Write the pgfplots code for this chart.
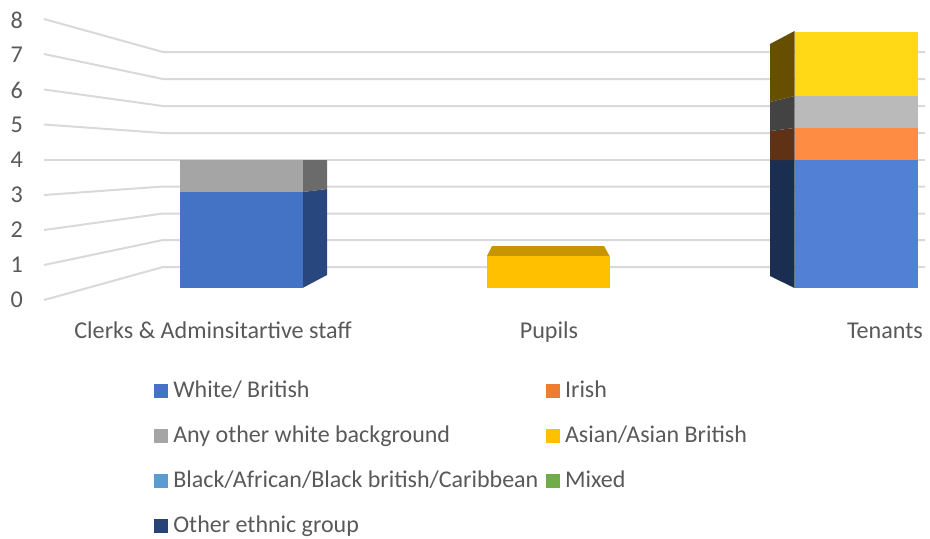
\documentclass[border=0pt]{standalone}
\usepackage{fontspec}
\setmainfont{Carlito}
\usepackage{pgfplots}
\pgfplotsset{compat=1.18}
\definecolor{txt}{HTML}{595959}
\definecolor{gridc}{HTML}{D9D9D9}
\definecolor{cblue}{HTML}{4472C4}
\definecolor{corange}{HTML}{ED7D31}
\definecolor{cgray}{HTML}{A5A5A5}
\definecolor{cyellow}{HTML}{FFC000}
\definecolor{cltblue}{HTML}{5B9BD5}
\definecolor{cgreen}{HTML}{70AD47}
\definecolor{cnavy}{HTML}{264478}
% tenants column, brighter than the rest
\definecolor{brblue}{HTML}{5180D5}
\definecolor{brorange}{HTML}{FF8C42}
\definecolor{brgray}{HTML}{BABABA}
\definecolor{bryellow}{HTML}{FFD916}
% side faces
\definecolor{sblue}{HTML}{28477F}
\definecolor{sgray}{HTML}{6B6B6B}
\definecolor{stop}{HTML}{C69500}
\definecolor{snavy}{HTML}{1A2E52}
\definecolor{sbrown}{HTML}{5F3115}
\definecolor{sdark}{HTML}{434343}
\definecolor{solive}{HTML}{665000}
% 1 px of the reference = 0.75pt
\pgfplotsset{
  frame/.style={
    at={(0pt,0pt)}, anchor=south west,
    scale only axis, width=697.5pt, height=403.5pt,
    axis line style={draw=none}, tick style={draw=none},
    enlargelimits=false, xmin=0, xmax=930,
    xtick=\empty, ytick=\empty,
    /pgf/number format/assume math mode=true,
    tick label style={text=txt, font=\fontsize{18.1}{21}\selectfont},
  },
  % bars: value v sits at pixel row 288-32v
  bars/.style={frame, ybar stacked, bar width=123, ymin=-7.8125, ymax=9},
  wall/.style={no markers, draw=gridc, line width=1.5pt},
  side/.style={fill=#1, draw=none, no markers},
}
\pgfplotstableread{
x   white irish other asian black mixed ethnic
241 3     0     1     0     0     0     0
548 0     0     0     1     0     0     0
}\lowerbars
\pgfplotstableread{
x   white irish other asian
856 4     1     1     2
}\tenantbars
\begin{document}
\begin{tikzpicture}
% back wall, floor lines and the side faces, in pixel rows
\begin{axis}[frame, ymin=0, ymax=538, y dir=reverse]
\addplot[wall] coordinates {(44,19) (163,52) (925,52)};
\addplot[wall] coordinates {(44,54) (163,79) (925,79)};
\addplot[wall] coordinates {(44,89.5) (163,106) (925,106)};
\addplot[wall] coordinates {(44,124.5) (163,133) (925,133)};
\addplot[wall] coordinates {(44,160) (163,160) (925,160)};
\addplot[wall] coordinates {(44,195) (163,186.5) (925,186.5)};
\addplot[wall] coordinates {(44,230) (163,213.5) (925,213.5)};
\addplot[wall] coordinates {(44,265) (163,240) (925,240)};
\addplot[wall] coordinates {(44,300) (163,267) (925,267)};
% clerks, right side
\addplot[side=sblue] coordinates {(302.5,192) (327,189) (327,275) (302.5,288)};
\addplot[side=sgray] coordinates {(302.5,160) (327,160) (327,189) (302.5,192)};
% pupils, top
\addplot[side=stop] coordinates {(487,256) (492,246) (604,246) (609.5,256)};
% tenants, left side
\addplot[side=snavy] coordinates {(794.5,160) (770,160) (770,276) (794.5,288)};
\addplot[side=sbrown] coordinates {(794.5,128) (770,131) (770,160) (794.5,160)};
\addplot[side=sdark] coordinates {(794.5,96) (770,102) (770,131) (794.5,128)};
\addplot[side=solive] coordinates {(794.5,31) (770,44) (770,102) (794.5,96)};
\end{axis}
% value scale on the left and the category names
\begin{axis}[frame, ymin=-6.8, ymax=8.5714,
  ytick={0,1,...,8},
  yticklabel style={anchor=center, xshift=12.5pt},
  xtick={213,549,885},
  xticklabels={Clerks \& Adminsitartive staff, Pupils, Tenants},
  xticklabel style={anchor=base, yshift=150pt},
]
\addplot[draw=none, forget plot] coordinates {(0,0) (930,8)};
\end{axis}
% clerks and pupils, with the legend
\begin{axis}[bars,
  legend image code/.code={\draw[#1,draw=none] (0pt,-5.25pt) rectangle (10.5pt,5.25pt);},
  legend cell align=left,
  legend style={at={(0.1656,0.2937)}, anchor=north west, draw=none, fill=none,
    inner sep=0pt, outer sep=0pt, row sep=16.75pt, text=txt,
    font=\fontsize{18}{21}\selectfont,
    nodes={text height=13pt, text depth=4pt, inner sep=0pt},
    /tikz/column 1/.style={column sep=4pt},
    /tikz/column 2/.style={column sep=5.5pt},
    /tikz/column 3/.style={column sep=4pt},
  },
  legend columns=2,
]
\addplot[fill=cblue, draw=none] table[x=x, y=white] {\lowerbars};
\addlegendentry{White/ British}
\addplot[fill=corange, draw=none] table[x=x, y=irish] {\lowerbars};
\addlegendentry{Irish}
\addplot[fill=cgray, draw=none] table[x=x, y=other] {\lowerbars};
\addlegendentry{Any other white background}
\addplot[fill=cyellow, draw=none] table[x=x, y=asian] {\lowerbars};
\addlegendentry{Asian/Asian British}
\addplot[fill=cltblue, draw=none] table[x=x, y=black] {\lowerbars};
\addlegendentry{Black/African/Black british/Caribbean}
\addplot[fill=cgreen, draw=none] table[x=x, y=mixed] {\lowerbars};
\addlegendentry{Mixed}
\addplot[fill=cnavy, draw=none] table[x=x, y=ethnic] {\lowerbars};
\addlegendentry{Other ethnic group}
\end{axis}
% tenants are lit a little brighter in the reference
\begin{axis}[bars]
\addplot[fill=brblue, draw=none] table[x=x, y=white] {\tenantbars};
\addplot[fill=brorange, draw=none] table[x=x, y=irish] {\tenantbars};
\addplot[fill=brgray, draw=none] table[x=x, y=other] {\tenantbars};
\addplot[fill=bryellow, draw=none] table[x=x, y=asian] {\tenantbars};
\end{axis}
\end{tikzpicture}
\end{document}
